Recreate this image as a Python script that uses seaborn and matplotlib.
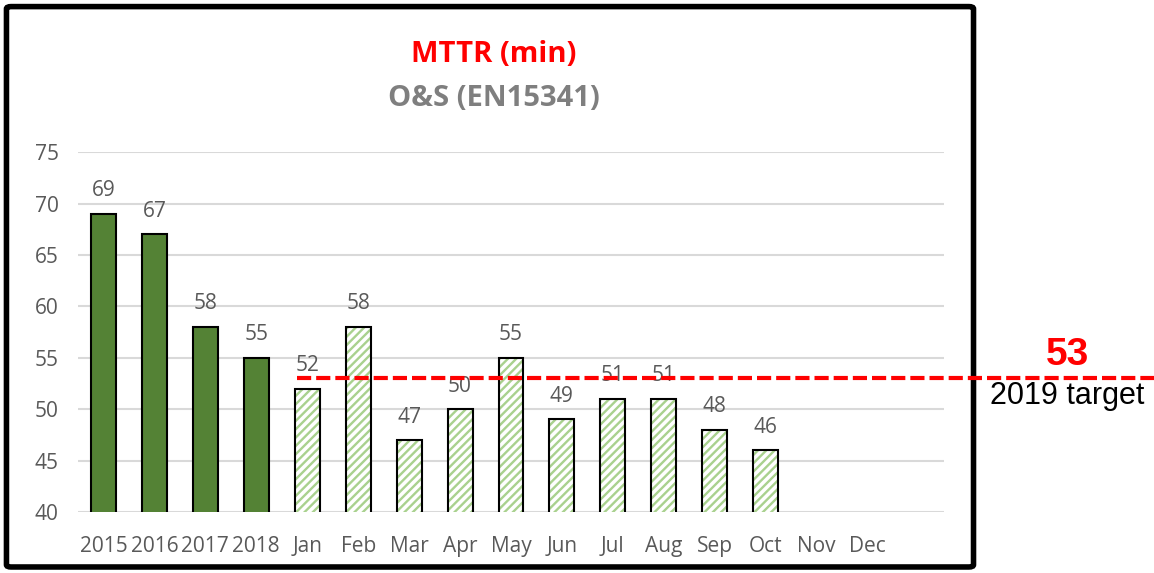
import pandas as pd
import matplotlib.pyplot as plt
import matplotlib.transforms as mtransforms
from matplotlib.patches import FancyBboxPatch
import seaborn as sns

# Data
categories = ['2015', '2016', '2017', '2018', 'Jan', 'Feb', 'Mar', 'Apr', 'May', 'Jun',
              'Jul', 'Aug', 'Sep', 'Oct', 'Nov', 'Dec']
years = ['2015', '2016', '2017', '2018']
year_values = [69, 67, 58, 55]
months = ['Jan', 'Feb', 'Mar', 'Apr', 'May', 'Jun', 'Jul', 'Aug', 'Sep', 'Oct', 'Nov', 'Dec']
month_values = [52, 58, 47, 50, 55, 49, 51, 51, 48, 46, None, None]
target_value = 53
y_ticks = [40, 45, 50, 55, 60, 65, 70, 75]

year_df = pd.DataFrame({'label': years, 'value': year_values})
month_df = pd.DataFrame({'label': months, 'value': month_values}).dropna()

sns.set_style('white')
plt.rcParams['font.family'] = ['Open Sans', 'DejaVu Sans']
plt.rcParams['hatch.linewidth'] = 1.7

dark_green = '#548235'
light_green = '#A9D18E'
grey_text = '#595959'

fig = plt.figure(figsize=(11.54, 5.73), dpi=100)
ax = fig.add_axes([0.0676, 0.1065, 0.7504, 0.628])

# Yearly bars, solid
sns.barplot(data=year_df, x='label', y='value', order=categories, color=dark_green,
            edgecolor='black', linewidth=1.5, width=0.49, errorbar=None, ax=ax,
            saturation=1)
# Monthly bars, hatched
sns.barplot(data=month_df, x='label', y='value', order=categories, color='white',
            linewidth=0, width=0.49, errorbar=None, ax=ax, saturation=1)
for p in ax.containers[1]:
    p.set_facecolor('white')
    p.set_edgecolor(light_green)
    p.set_linewidth(0)
    p.set_hatch('////')
# Outline for monthly bars
sns.barplot(data=month_df, x='label', y='value', order=categories, color='black',
            fill=False, linewidth=1.5, width=0.49, errorbar=None, ax=ax)

ax.bar_label(ax.containers[0], labels=[str(v) for v in year_values], padding=9,
             color=grey_text, fontsize=15)
ax.bar_label(ax.containers[1], labels=[str(int(v)) for v in month_df['value']], padding=9,
             color=grey_text, fontsize=15)

ax.set_ylim(40, 75)
ax.set_yticks(y_ticks)
ax.set_xlim(-0.5, 16.5)
ax.set_xlabel('')
ax.set_ylabel('')
ax.grid(axis='y', color='#D9D9D9', linewidth=1.5)
ax.set_axisbelow(True)
for s in ax.spines.values():
    s.set_visible(False)
ax.tick_params(axis='both', length=0, labelcolor=grey_text, labelsize=15)
ax.tick_params(axis='y', pad=14)
ax.tick_params(axis='x', pad=17)

# Target line, running out past the chart box
blend = mtransforms.blended_transform_factory(fig.transFigure, ax.transData)
ax.plot([297 / 1154, 1.0], [target_value, target_value], transform=blend, color='red',
        linewidth=3, linestyle=(0, (3.4, 1.2)), clip_on=False, zorder=6,
        solid_capstyle='butt', dash_capstyle='butt')
fig.text(0.925, 0.381, str(target_value), color='red', fontsize=28, fontweight='bold',
         ha='center', va='center', family='Liberation Sans')
fig.text(0.925, 0.309, '2019 target', color='black', fontsize=22,
         ha='center', va='center', family='Liberation Sans')

# Titles
fig.text(0.428, 0.905, 'MTTR (min)', color='red', fontsize=21, fontweight='bold',
         ha='center', va='center')
fig.text(0.428, 0.828, 'O&S (EN15341)', color='#7F7F7F', fontsize=21, fontweight='bold',
         ha='center', va='center')

# Chart box border
border = FancyBboxPatch((0.0056, 0.0105), 0.838, 0.978, boxstyle='round,pad=0,rounding_size=0.004',
                        transform=fig.transFigure, fill=False, edgecolor='black',
                        linewidth=4, zorder=-1)
fig.patches.append(border)

fig.savefig('out.png', dpi=100)
